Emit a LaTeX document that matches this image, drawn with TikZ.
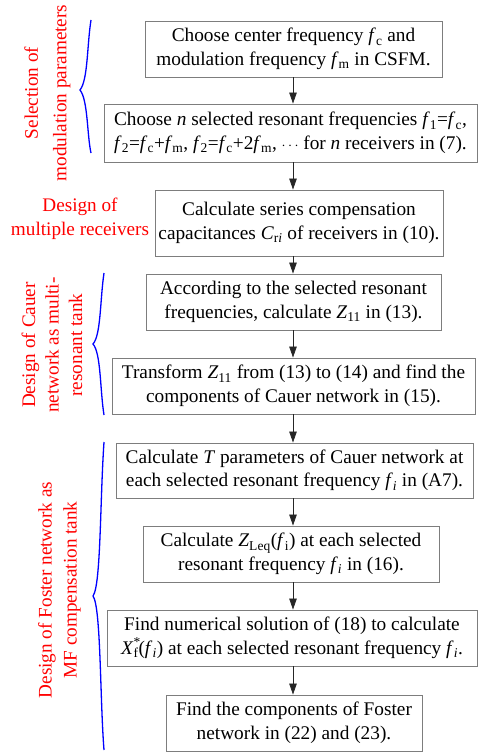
\documentclass[tikz,border=0pt]{standalone}
\usepackage{fontspec}
\setmainfont{Liberation Serif}
\usetikzlibrary{arrows.meta}
\definecolor{boxgray}{RGB}{125,125,125}
\newcommand\iv[1]{\textit{#1}}
\newcommand\fsub[2]{\textit{#1}\textsubscript{#2}}
\tikzset{
  stepbox/.style={draw=boxgray, line width=0.9pt, align=center, inner sep=0pt,
    font=\fontsize{19.3}{23.5}\selectfont},
  flow/.style={draw=black!85, line width=0.8pt, -{Triangle[width=7.5pt,length=11pt]}},
  phase/.style={text=red, align=center, font=\fontsize{19.2}{23.5}\selectfont},
  bracket/.style={draw=blue, line width=1.3pt}
}
\begin{document}
\begin{tikzpicture}[x=1pt,y=-1pt]
\useasboundingbox (0,0) rectangle (479,752);
\coordinate (axis) at (293,0);

\node[stepbox, minimum width=297pt, minimum height=56pt] (b1) at (293.5,49)
  {Choose center frequency \fsub{f}{c} and\\modulation frequency \fsub{f}{m} in CSFM.};
\node[stepbox, minimum width=373pt, minimum height=58pt] (b2) at (290.5,133)
  {Choose \iv{n} selected resonant frequencies \fsub{f}{1}=\fsub{f}{c},\\
   \fsub{f}{2}=\fsub{f}{c}+\fsub{f}{m}, \fsub{f}{2}=\fsub{f}{c}+2\fsub{f}{m}, {\fontsize{15}{15}\selectfont$\cdots$} for \iv{n} receivers in (7).};
\node[stepbox, minimum width=288pt, minimum height=66pt] (b3) at (299,223)
  {Calculate series compensation\\capacitances \fsub{C}{r\textit{i}} of receivers in (10).};
\node[stepbox, minimum width=295pt, minimum height=56pt] (b4) at (293.5,302)
  {According to the selected resonant\\frequencies, calculate \fsub{Z}{11} in (13).};
\node[stepbox, minimum width=363pt, minimum height=56pt] (b5) at (293.5,386)
  {Transform \fsub{Z}{11} from (13) to (14) and find the\\components of Cauer network in (15).};
\node[stepbox, minimum width=357pt, minimum height=55pt] (b6) at (294.5,470.5)
  {Calculate \iv{T} parameters of Cauer network at\\each selected resonant frequency \fsub{f}{\textit{i}} in (A7).};
\node[stepbox, minimum width=296pt, minimum height=56pt] (b7) at (291,554)
  {Calculate \fsub{Z}{Leq}(\fsub{f}{i}) at each selected\\resonant frequency \fsub{f}{\textit{i}} in (16).};
\node[stepbox, minimum width=370pt, minimum height=56pt] (b8) at (292,638)
  {Find numerical solution of (18) to calculate\\
   \iv{X}\rlap{\textsuperscript{*}}\textsubscript{f}(\fsub{f}{\textit{i}}) at each selected resonant frequency \fsub{f}{\textit{i}}.};
\node[stepbox, minimum width=256pt, minimum height=56pt] (b9) at (294,723)
  {Find the components of Foster\\network in (22) and (23).};

\foreach \a/\b in {b1/b2,b2/b3,b3/b4,b4/b5,b5/b6,b6/b7,b7/b8,b8/b9}
  \draw[flow] (\a.south -| axis) -- (\b.north -| axis);

\node[phase, rotate=90] (l1) at (47.5,93) {Selection of\\[5pt]modulation parameters};
\node[phase] (l2) at (80,219) {Design of\\multiple receivers};
\node[phase, rotate=90] (l3) at (52,345) {Design of Cauer\\network as multi-\\resonant tank};
\node[phase, rotate=90] (l4) at (59.5,590) {Design of Foster network as\\[1.5pt]MF compensation tank};

\draw[bracket] (91,20) .. controls (87,45) and (88,80) .. (80,90)
  .. controls (88,100) and (87,135) .. (91,153);
\draw[bracket] (104,273) .. controls (100,300) and (101,335) .. (93,344)
  .. controls (101,353) and (100,390) .. (104,415);
\draw[bracket] (104,442) .. controls (100,500) and (101,585) .. (93,596)
  .. controls (101,607) and (100,700) .. (104,750);
\end{tikzpicture}
\end{document}
